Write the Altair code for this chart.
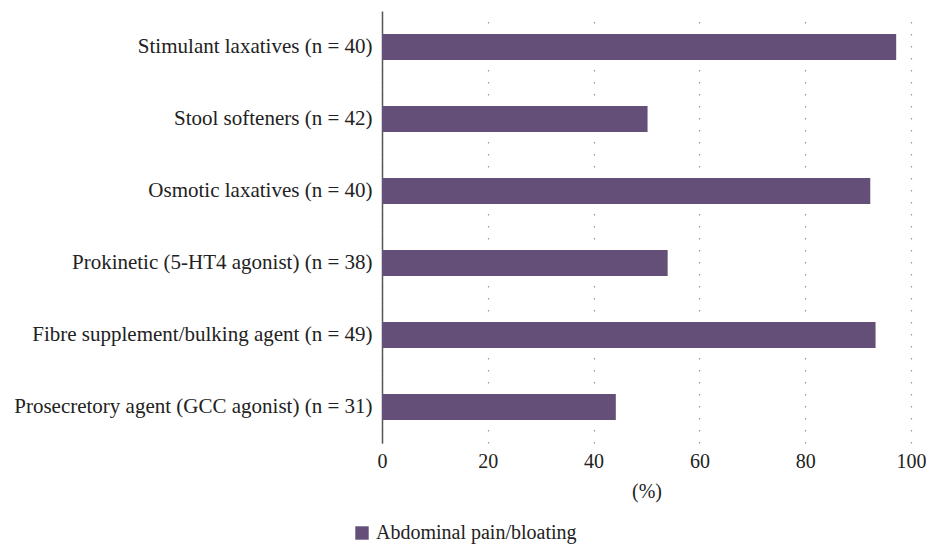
import altair as alt
import pandas as pd

categories = [
    "Stimulant laxatives (n = 40)",
    "Stool softeners (n = 42)",
    "Osmotic laxatives (n = 40)",
    "Prokinetic (5-HT4 agonist) (n = 38)",
    "Fibre supplement/bulking agent (n = 49)",
    "Prosecretory agent (GCC agonist) (n = 31)",
]
values = [97.2, 50.2, 92.3, 54.0, 93.3, 44.2]
series = ["Abdominal pain/bloating"] * len(categories)

df = pd.DataFrame({"cat": categories, "val": values, "series": series})

FONT = "Liberation Serif"
PURPLE = "#644f78"
FS = 20

chart = alt.Chart(df).mark_bar(color=PURPLE).encode(
    y=alt.Y("cat:N", sort=categories, title=None,
            scale=alt.Scale(paddingInner=0.64, paddingOuter=0.32),
            axis=alt.Axis(domain=True, domainColor="#555555", domainWidth=1.5,
                          ticks=False, labelFont=FONT, labelFontSize=21,
                          labelColor="#222222", labelPadding=10, grid=False,
                          labelLimit=500)),
    x=alt.X("val:Q", title="(%)",
            scale=alt.Scale(domain=[0, 100], nice=False),
            axis=alt.Axis(values=[0, 20, 40, 60, 80, 100], domain=False, ticks=False,
                          grid=True, gridColor="#999999", gridDash=[1.5, 10.5],
                          gridWidth=1.2, labelFont=FONT, labelFontSize=FS,
                          labelFlush=False,
                          labelColor="#222222", labelPadding=8,
                          titleFont=FONT, titleFontSize=FS, titleFontWeight="normal",
                          titleColor="#222222", titlePadding=10)),
    fill=alt.Fill("series:N", title=None,
                  scale=alt.Scale(range=[PURPLE]),
                  legend=alt.Legend(orient="none", legendX=-30, legendY=512,
                                    symbolType="square", symbolSize=180,
                                    symbolStrokeWidth=0, labelLimit=0,
                                    labelFont=FONT, labelFontSize=FS,
                                    labelColor="#222222")),
).properties(
    width=529, height=432,
    autosize=alt.AutoSizeParams(type="none"),
    padding={"left": 374, "top": 3, "right": 15, "bottom": 103},
).configure_view(stroke=None)

chart.save("out.html", embed_options={"renderer": "svg", "actions": False})
